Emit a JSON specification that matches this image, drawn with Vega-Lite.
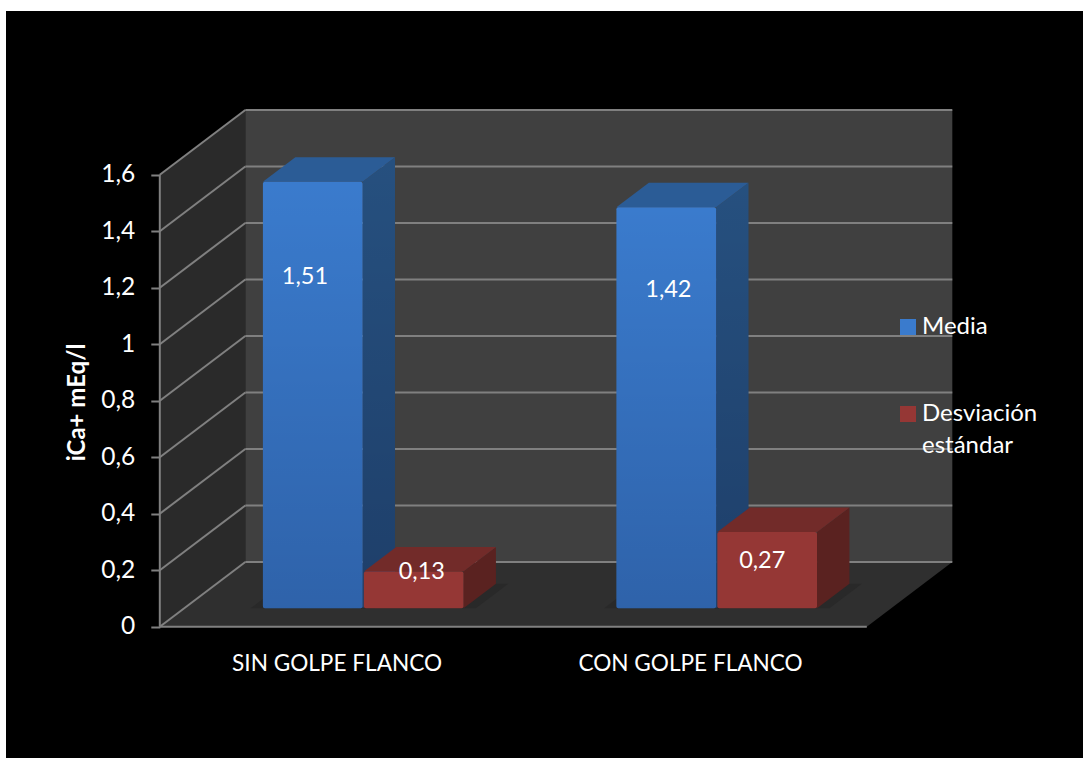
{
  "$schema": "https://vega.github.io/schema/vega-lite/v6.json",
  "width": 1077,
  "height": 747,
  "autosize": {"type": "none"},
  "padding": {"left": 6, "top": 11, "right": 0, "bottom": 0},
  "background": "#ffffff",
  "view": {"fill": "#000000", "stroke": null},
  "config": {
    "font": "Lato",
    "axis": {"grid": false},
    "style": {"guide-label": {"lineHeight": 32}}
  },
  "params": [
    {"name": "px", "value": 0.2419},
    {"name": "py", "value": 0.229},
    {"name": "frente", "value": 0.284},
    {"name": "fondo", "value": 0.663}
  ],
  "data": {
    "values": [
      {"grupo": "SIN GOLPE FLANCO", "serie": "Media", "valor": 1.51},
      {"grupo": "SIN GOLPE FLANCO", "serie": "Desviación estándar", "valor": 0.13},
      {"grupo": "CON GOLPE FLANCO", "serie": "Media", "valor": 1.42},
      {"grupo": "CON GOLPE FLANCO", "serie": "Desviación estándar", "valor": 0.27}
    ]
  },
  "transform": [
    {"calculate": "datum.grupo + '|' + datum.serie", "as": "barra"},
    {"calculate": "(datum.grupo === 'SIN GOLPE FLANCO' ? 0.5 : 1.5) + frente * px + (datum.serie === 'Media' ? -0.277 : 0.0085)", "as": "xi"},
    {"calculate": "datum.xi + 0.282", "as": "xd"},
    {"calculate": "frente * py", "as": "base"},
    {"calculate": "datum.valor + frente * py", "as": "tope"},
    {"calculate": "[frente, fondo]", "as": "z"},
    {"calculate": "datum.xi + {'SIN GOLPE FLANCO|Media': 0.119, 'SIN GOLPE FLANCO|Desviación estándar': 0.164, 'CON GOLPE FLANCO|Media': 0.147, 'CON GOLPE FLANCO|Desviación estándar': 0.127}[datum.barra]", "as": "xEtiqueta"},
    {"calculate": "datum.valor + {'SIN GOLPE FLANCO|Media': -0.272, 'SIN GOLPE FLANCO|Desviación estándar': 0.063, 'CON GOLPE FLANCO|Media': -0.228, 'CON GOLPE FLANCO|Desviación estándar': -0.038}[datum.barra]", "as": "yEtiqueta"},
    {"calculate": "replace(toString(datum.valor), '.', ',')", "as": "etiqueta"}
  ],
  "resolve": {"scale": {"color": "independent"}},
  "layer": [
    {
      "description": "Pared lateral izquierda",
      "data": {"values": [{"z": 0}, {"z": 1}]},
      "transform": [
        {"calculate": "datum.z * px", "as": "x"},
        {"calculate": "datum.z * py", "as": "y0"},
        {"calculate": "1.6 + datum.z * py", "as": "y1"}
      ],
      "mark": {"type": "area", "color": "#2a2a2a"},
      "encoding": {
        "x": {"field": "x", "type": "quantitative", "scale": {"domain": [-0.43508, 2.6116], "nice": false, "zero": false}},
        "y": {"field": "y1", "type": "quantitative", "scale": {"domain": [-0.46478, 2.1795], "nice": false, "zero": false}},
        "y2": {"field": "y0"}
      }
    },
    {
      "description": "Pared del fondo",
      "data": {"values": [{"z": 1}]},
      "transform": [
        {"calculate": "datum.z * px", "as": "x0"},
        {"calculate": "2 + datum.z * px", "as": "x1"},
        {"calculate": "datum.z * py", "as": "y0"},
        {"calculate": "1.6 + datum.z * py", "as": "y1"}
      ],
      "mark": {"type": "rect", "color": "#404040"},
      "encoding": {
        "x": {"field": "x0", "type": "quantitative"},
        "x2": {"field": "x1"},
        "y": {"field": "y1", "type": "quantitative"},
        "y2": {"field": "y0"}
      }
    },
    {
      "description": "Suelo",
      "data": {"values": [{"z": 0}, {"z": 1}]},
      "transform": [
        {"calculate": "datum.z * px", "as": "x0"},
        {"calculate": "2 + datum.z * px", "as": "x1"},
        {"calculate": "datum.z * py", "as": "y0"}
      ],
      "mark": {"type": "area", "orient": "horizontal", "color": "#2f2f2f"},
      "encoding": {
        "y": {"field": "y0", "type": "quantitative"},
        "x": {"field": "x0", "type": "quantitative"},
        "x2": {"field": "x1"}
      }
    },
    {
      "description": "Líneas de división sobre la pared lateral",
      "data": {"values": [{"v": 0}, {"v": 0.2}, {"v": 0.4}, {"v": 0.6}, {"v": 0.8}, {"v": 1}, {"v": 1.2}, {"v": 1.4}, {"v": 1.6}]},
      "transform": [
        {"calculate": "datum.v + py", "as": "vFondo"},
        {"calculate": "0", "as": "x0"},
        {"calculate": "px", "as": "x1"}
      ],
      "mark": {"type": "rule", "color": "#808080", "strokeWidth": 2},
      "encoding": {
        "x": {"field": "x0", "type": "quantitative"},
        "x2": {"field": "x1"},
        "y": {"field": "v", "type": "quantitative"},
        "y2": {"field": "vFondo"}
      }
    },
    {
      "description": "Líneas de división sobre la pared del fondo, con los ejes",
      "data": {"values": [{"v": 0}, {"v": 0.2}, {"v": 0.4}, {"v": 0.6}, {"v": 0.8}, {"v": 1}, {"v": 1.2}, {"v": 1.4}, {"v": 1.6}]},
      "transform": [
        {"calculate": "datum.v + py", "as": "vFondo"},
        {"calculate": "px", "as": "x0"},
        {"calculate": "2 + px", "as": "x1"}
      ],
      "mark": {"type": "rule", "color": "#808080", "strokeWidth": 2},
      "encoding": {
        "x": {
          "field": "x0",
          "type": "quantitative",
          "axis": {
            "orient": "bottom",
            "offset": -106,
            "values": [0.5, 1.5],
            "labelExpr": "datum.value < 1 ? 'SIN GOLPE FLANCO' : 'CON GOLPE FLANCO'",
            "domain": false,
            "ticks": false,
            "title": null,
            "labelColor": "#ffffff",
            "labelFontSize": 22.6,
            "labelLimit": 400,
            "labelPadding": 0,
            "labelOverlap": false,
            "labelFlush": false
          }
        },
        "x2": {"field": "x1"},
        "y": {
          "field": "vFondo",
          "type": "quantitative",
          "axis": {
            "orient": "left",
            "offset": -153.8,
            "values": [0, 0.2, 0.4, 0.6, 0.8, 1, 1.2, 1.4, 1.6],
            "labelExpr": "replace(toString(datum.value), '.', ',')",
            "domain": false,
            "tickColor": "#808080",
            "tickWidth": 2,
            "tickSize": 9,
            "labelColor": "#ffffff",
            "labelFontSize": 24.5,
            "labelPadding": 16,
            "labelOverlap": false,
            "labelFlush": false,
            "title": "iCa+ mEq/l",
            "titleColor": "#ffffff",
            "titleFontSize": 24,
            "titleFontWeight": "bold",
            "titleX": -70,
            "titleY": 391
          }
        }
      }
    },
    {
      "description": "Eje vertical y borde frontal del suelo",
      "data": {"values": [{"x0": 0, "x1": 0, "y0": 0, "y1": 1.6}, {"x0": 0, "x1": 2, "y0": 0, "y1": 0}]},
      "mark": {"type": "rule", "color": "#808080", "strokeWidth": 2},
      "encoding": {
        "x": {"field": "x0", "type": "quantitative"},
        "x2": {"field": "x1"},
        "y": {"field": "y0", "type": "quantitative"},
        "y2": {"field": "y1"}
      }
    },
    {
      "description": "Sombra de cada barra sobre el suelo",
      "transform": [
        {"flatten": ["z"]},
        {"calculate": "datum.z * py", "as": "ySuelo"},
        {"calculate": "datum.xi - frente * px + datum.z * px - 0.035", "as": "sx0"},
        {"calculate": "datum.xd - frente * px + datum.z * px + 0.035", "as": "sx1"}
      ],
      "mark": {"type": "area", "orient": "horizontal", "color": "#292929"},
      "encoding": {
        "y": {"field": "ySuelo", "type": "quantitative"},
        "x": {"field": "sx0", "type": "quantitative"},
        "x2": {"field": "sx1"},
        "detail": {"field": "barra"}
      }
    },
    {
      "description": "Cara lateral de las barras",
      "transform": [
        {"flatten": ["z"]},
        {"calculate": "datum.xd + (datum.z - frente) * px", "as": "xLado"},
        {"calculate": "datum.z * py", "as": "yb"},
        {"calculate": "datum.valor + datum.z * py", "as": "yt"}
      ],
      "mark": {"type": "area"},
      "encoding": {
        "x": {"field": "xLado", "type": "quantitative"},
        "y": {"field": "yt", "type": "quantitative"},
        "y2": {"field": "yb"},
        "detail": {"field": "barra"},
        "color": {
          "field": "serie",
          "type": "nominal",
          "legend": null,
          "scale": {"domain": ["Media", "Desviación estándar"], "range": ["#26507f", "#5a2220"]}
        }
      }
    },
    {
      "description": "Degradado vertical sobre el lateral de las barras azules",
      "transform": [
        {"filter": "datum.serie === 'Media'"},
        {"flatten": ["z"]},
        {"calculate": "datum.xd + (datum.z - frente) * px", "as": "xLado"},
        {"calculate": "datum.z * py", "as": "yb"},
        {"calculate": "datum.valor + datum.z * py", "as": "yt"}
      ],
      "mark": {
        "type": "area",
        "color": {
          "gradient": "linear",
          "x1": 0, "y1": 0, "x2": 0, "y2": 1,
          "stops": [
            {"offset": 0, "color": "rgba(0,0,30,0)"},
            {"offset": 1, "color": "rgba(0,0,30,0.22)"}
          ]
        }
      },
      "encoding": {
        "x": {"field": "xLado", "type": "quantitative"},
        "y": {"field": "yt", "type": "quantitative"},
        "y2": {"field": "yb"},
        "detail": {"field": "barra"}
      }
    },
    {
      "description": "Cara superior de las barras",
      "transform": [
        {"flatten": ["z"]},
        {"calculate": "datum.xi + (datum.z - frente) * px", "as": "x0"},
        {"calculate": "datum.xd + (datum.z - frente) * px", "as": "x1"},
        {"calculate": "datum.valor + datum.z * py", "as": "yt"}
      ],
      "mark": {"type": "area", "orient": "horizontal"},
      "encoding": {
        "y": {"field": "yt", "type": "quantitative"},
        "x": {"field": "x0", "type": "quantitative"},
        "x2": {"field": "x1"},
        "detail": {"field": "barra"},
        "color": {
          "field": "serie",
          "type": "nominal",
          "legend": null,
          "scale": {"domain": ["Media", "Desviación estándar"], "range": ["#2b5c96", "#722b29"]}
        }
      }
    },
    {
      "description": "Cara frontal de las barras, con la leyenda",
      "mark": {"type": "rect", "cornerRadius": 2},
      "encoding": {
        "x": {"field": "xi", "type": "quantitative"},
        "x2": {"field": "xd"},
        "y": {"field": "tope", "type": "quantitative"},
        "y2": {"field": "base"},
        "color": {
          "field": "serie",
          "type": "nominal",
          "scale": {"domain": ["Media", "Desviación estándar"], "range": ["#3a7bcd", "#953735"]},
          "legend": {
            "orient": "none",
            "legendX": 890,
            "legendY": 304,
            "title": null,
            "symbolType": "square",
            "symbolSize": 256,
            "symbolStrokeWidth": 0,
            "labelColor": "#ffffff",
            "labelFontSize": 24,
            "labelOffset": 2,
            "labelLimit": 200,
            "rowPadding": 63,
            "labelExpr": "datum.label === 'Desviación estándar' ? ['Desviación', 'estándar'] : datum.label"
          }
        }
      }
    },
    {
      "description": "Degradado vertical sobre las barras azules",
      "transform": [{"filter": "datum.serie === 'Media'"}],
      "mark": {
        "type": "rect",
        "cornerRadius": 2,
        "color": {
          "gradient": "linear",
          "x1": 0, "y1": 0, "x2": 0, "y2": 1,
          "stops": [
            {"offset": 0, "color": "rgba(0,0,30,0)"},
            {"offset": 1, "color": "rgba(0,0,30,0.2)"}
          ]
        }
      },
      "encoding": {
        "x": {"field": "xi", "type": "quantitative"},
        "x2": {"field": "xd"},
        "y": {"field": "tope", "type": "quantitative"},
        "y2": {"field": "base"}
      }
    },
    {
      "description": "Valores sobre las barras",
      "mark": {"type": "text", "color": "#ffffff", "fontSize": 23.5, "align": "center", "baseline": "middle"},
      "encoding": {
        "x": {"field": "xEtiqueta", "type": "quantitative"},
        "y": {"field": "yEtiqueta", "type": "quantitative"},
        "text": {"field": "etiqueta"}
      }
    }
  ]
}
